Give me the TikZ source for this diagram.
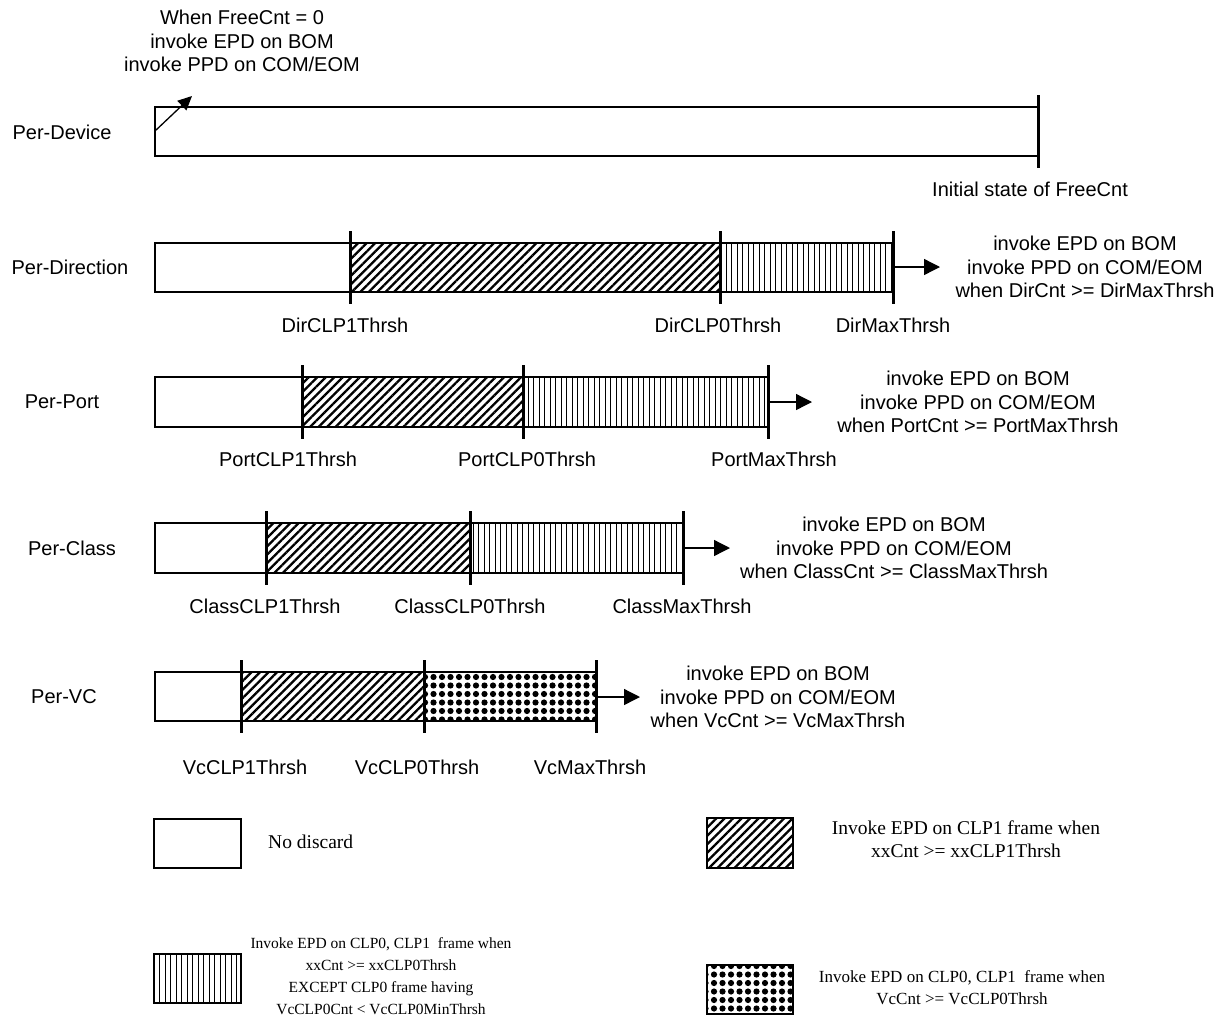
\documentclass[tikz,border=0pt]{standalone}
\usepackage{fontspec}
\setmainfont{Liberation Serif}
\setsansfont{Liberation Sans}
\usepackage{tikz}
\usetikzlibrary{arrows.meta, positioning, patterns.meta}

\tikzset{
  bar/.style={draw, line width=1.3pt},
  thrsh/.style={line width=3pt},
  lbl/.style={font=\sffamily\fontsize{20}{23.5}\selectfont, align=center, inner sep=0pt},
  note/.style={font=\fontsize{19.5}{23.5}\selectfont, align=center, inner sep=0pt},
  smallnote/.style={font=\fontsize{17}{22}\selectfont, align=center, inner sep=0pt},
  hatch/.style={pattern={Lines[angle=45, distance=6pt, line width=2.3pt]}},
  vlines/.style={pattern={Lines[angle=90, distance=5.5pt, line width=0.8pt]}},
  checker/.style={pattern={Dots[radius=3.1pt, distance=8.5pt]}},
  tip/.style={-{Triangle[length=16pt, width=16pt]}, line width=1.3pt}
}

\begin{document}
\begin{tikzpicture}[x=1pt, y=-1pt]
\useasboundingbox (0,0) rectangle (1231,1034);

% Per-Device
\node[lbl] (devlbl) at (62,132) {Per-Device};
\draw[bar] (155,107) rectangle (1038,156);
\draw[thrsh] (1038,95) -- (1038,168);
\node[lbl, anchor=west] (devinit) at (932,189) {Initial state of FreeCnt};
\node[lbl] (freenote) at (242,41) {When FreeCnt = 0\\invoke EPD on BOM\\invoke PPD on COM/EOM};
\coordinate (devstart) at (155,131);
\coordinate (devtip) at (192,96);
\draw[-{Triangle[length=14pt, width=13pt]}, line width=1.3pt] (devstart) -- (devtip);

% Per-Direction
\node[lbl] (dirlbl) at (70,267) {Per-Direction};
\fill[hatch] (350,243) rectangle (720,292);
\fill[vlines] (720,243) rectangle (893,292);
\draw[bar] (155,243) rectangle (893,292);
\draw[thrsh] (350,231) -- (350,304);
\draw[thrsh] (720,231) -- (720,304);
\draw[thrsh] (893,231) -- (893,304);
\node[lbl] (dirclp1) at (345,325) {DirCLP1Thrsh};
\node[lbl] (dirclp0) at (718,325) {DirCLP0Thrsh};
\node[lbl] (dirmax) at (893,325) {DirMaxThrsh};
\coordinate (dirfrom) at (893,267);
\coordinate (dirto) at (940,267);
\draw[tip] (dirfrom) -- (dirto);
\node[lbl] (dirnote) at (1085,267) {invoke EPD on BOM\\invoke PPD on COM/EOM\\when DirCnt >= DirMaxThrsh};

% Per-Port
\node[lbl] (portlbl) at (62,402) {Per-Port};
\fill[hatch] (302,377) rectangle (523,427);
\fill[vlines] (523,377) rectangle (768,427);
\draw[bar] (155,377) rectangle (768,427);
\draw[thrsh] (302,365) -- (302,439);
\draw[thrsh] (523,365) -- (523,439);
\draw[thrsh] (768,365) -- (768,439);
\node[lbl] (portclp1) at (288,459) {PortCLP1Thrsh};
\node[lbl] (portclp0) at (527,459) {PortCLP0Thrsh};
\node[lbl] (portmax) at (774,459) {PortMaxThrsh};
\coordinate (portfrom) at (768,402);
\coordinate (portto) at (812,402);
\draw[tip] (portfrom) -- (portto);
\node[lbl] (portnote) at (978,402) {invoke EPD on BOM\\invoke PPD on COM/EOM\\when PortCnt >= PortMaxThrsh};

% Per-Class
\node[lbl] (classlbl) at (72,548) {Per-Class};
\fill[hatch] (266,523) rectangle (470,573);
\fill[vlines] (470,523) rectangle (683,573);
\draw[bar] (155,523) rectangle (683,573);
\draw[thrsh] (266,511) -- (266,585);
\draw[thrsh] (470,511) -- (470,585);
\draw[thrsh] (683,511) -- (683,585);
\node[lbl] (classclp1) at (265,606) {ClassCLP1Thrsh};
\node[lbl] (classclp0) at (470,606) {ClassCLP0Thrsh};
\node[lbl] (classmax) at (682,606) {ClassMaxThrsh};
\coordinate (classfrom) at (683,548);
\coordinate (classto) at (730,548);
\draw[tip] (classfrom) -- (classto);
\node[lbl] (classnote) at (894,548) {invoke EPD on BOM\\invoke PPD on COM/EOM\\when ClassCnt >= ClassMaxThrsh};

% Per-VC
\node[lbl] (vclbl) at (64,697) {Per-VC};
\fill[hatch] (241,672) rectangle (424,721);
\fill[checker] (424,672) rectangle (596,721);
\draw[bar] (155,672) rectangle (596,721);
\draw[thrsh] (241,660) -- (241,733);
\draw[thrsh] (424,660) -- (424,733);
\draw[thrsh] (596,660) -- (596,733);
\node[lbl] (vcclp1) at (245,767) {VcCLP1Thrsh};
\node[lbl] (vcclp0) at (417,767) {VcCLP0Thrsh};
\node[lbl] (vcmax) at (590,767) {VcMaxThrsh};
\coordinate (vcfrom) at (596,697);
\coordinate (vcto) at (640,697);
\draw[tip] (vcfrom) -- (vcto);
\node[lbl] (vcnote) at (778,697) {invoke EPD on BOM\\invoke PPD on COM/EOM\\when VcCnt >= VcMaxThrsh};

% legend
\draw[bar] (154,819) rectangle (241,868);
\node[note, anchor=west] (keynone) at (268,842) {No discard};
\fill[hatch] (707,818) rectangle (793,868);
\draw[bar] (707,818) rectangle (793,868);
\node[note] (keyclp1) at (966,839) {Invoke EPD on CLP1 frame when\\xxCnt >= xxCLP1Thrsh};
\fill[vlines] (154,954) rectangle (241,1003);
\draw[bar] (154,954) rectangle (241,1003);
\node[smallnote, font=\fontsize{15.5}{22}\selectfont] (keyclp0) at (381,976) {Invoke EPD on CLP0, CLP1\ \ frame when\\xxCnt >= xxCLP0Thrsh\\EXCEPT CLP0 frame having\\VcCLP0Cnt < VcCLP0MinThrsh};
\fill[checker] (707,965) rectangle (793,1014);
\draw[bar] (707,965) rectangle (793,1014);
\node[smallnote] (keyvc) at (962,988) {Invoke EPD on CLP0, CLP1\ \ frame when\\VcCnt >= VcCLP0Thrsh};
\end{tikzpicture}
\end{document}
